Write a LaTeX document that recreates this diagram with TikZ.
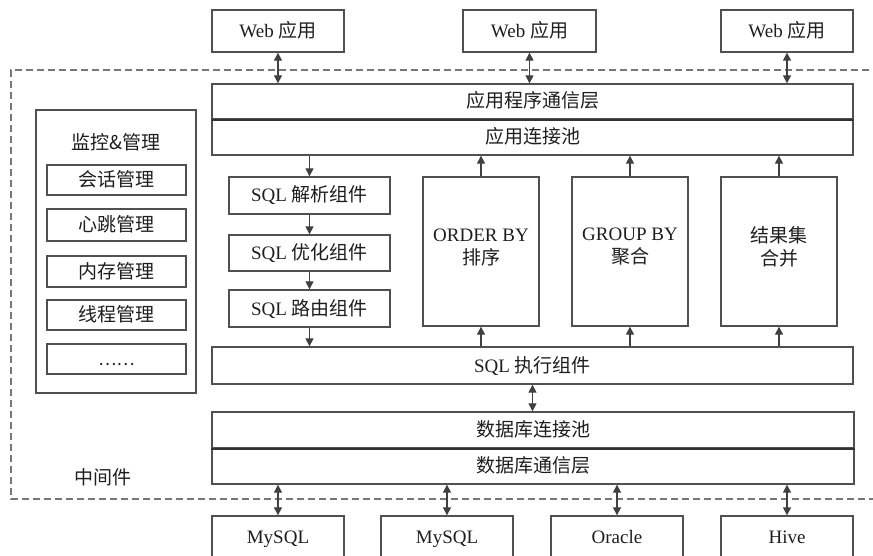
\documentclass[tikz,border=0pt]{standalone}
\usepackage{fontspec}
\setmainfont{Liberation Serif}
\newfontfamily\cjk{Noto Sans CJK SC}
\usetikzlibrary{arrows.meta}
\definecolor{linec}{HTML}{505050}
\definecolor{dashc}{HTML}{777777}
\definecolor{textc}{HTML}{1E1E1E}
\newcommand{\zh}[1]{{\cjk #1}}
\begin{document}
\begin{tikzpicture}[x=1pt,y=-1pt,
  txt/.style={text=textc,font=\fontsize{19}{22}\selectfont,align=center},
  box/.style={draw=linec,line width=1.3pt,rectangle,inner sep=0pt,txt,
    text height=17pt,text depth=4pt},
  bi/.style={{Triangle[length=8pt,width=8pt]}-{Triangle[length=8pt,width=8pt]},draw=black!75,fill=black!75,line width=1.2pt},
  up/.style={-{Triangle[length=8pt,width=8pt]},draw=black!75,fill=black!75,line width=1.2pt},
  border/.style={draw=dashc,line width=1.3pt,dash pattern=on 7pt off 4pt}
]
\useasboundingbox (0,0) rectangle (873,556);
\clip (0,0) rectangle (873,556);
\fill[white] (0,0) rectangle (873,556);
% dashed middleware border
\draw[border] (880,70) -- (11,70) -- (11,499) -- (880,499);
\node[txt] (mid) at (103,477) {\zh{中间件}};
% web apps
\node[box,minimum width=132pt,minimum height=42pt] (web1) at (278,31) {Web \zh{应用}};
\node[box,minimum width=133pt,minimum height=42pt] (web2) at (529.5,31) {Web \zh{应用}};
\node[box,minimum width=132pt,minimum height=42pt] (web3) at (787,31) {Web \zh{应用}};
% application layers
\node[box,minimum width=641pt,minimum height=35pt] (comm) at (532.5,101.5) {\zh{应用程序通信层}};
\node[box,minimum width=641pt,minimum height=36pt] (apool) at (532.5,137) {\zh{应用连接池}};
\draw[black!80,line width=1.8pt] (comm.south west) -- (comm.south east);
% monitor
\node[box,minimum width=160pt,minimum height=283pt] (mon) at (116,251.5) {};
\node[txt] (montitle) at (116,142) {\zh{监控\&管理}};
\node[box,minimum width=139pt,minimum height=30pt] (m1) at (116.5,180) {\zh{会话管理}};
\node[box,minimum width=139pt,minimum height=32pt] (m2) at (116.5,225) {\zh{心跳管理}};
\node[box,minimum width=139pt,minimum height=31pt] (m3) at (116.5,271.5) {\zh{内存管理}};
\node[box,minimum width=139pt,minimum height=30pt] (m4) at (116.5,315) {\zh{线程管理}};
\node[box,minimum width=139pt,minimum height=30pt] (m5) at (116.5,359) {\zh{\fontsize{17}{18}\selectfont ……}};
% SQL column
\node[box,minimum width=161pt,minimum height=37pt] (parse) at (309.5,195.5) {SQL \zh{解析组件}};
\node[box,minimum width=161pt,minimum height=36pt] (opt) at (309.5,253) {SQL \zh{优化组件}};
\node[box,minimum width=161pt,minimum height=37pt] (route) at (309.5,308.5) {SQL \zh{路由组件}};
% processing boxes
\node[box,minimum width=116pt,minimum height=149pt] (order) at (481,251.5) {};
\node[txt,font=\fontsize{19}{23}\selectfont] (ordert) at (481,247) {ORDER BY\\\zh{排序}};
\node[box,minimum width=116pt,minimum height=149pt] (group) at (630,251.5) {};
\node[txt,font=\fontsize{19}{23}\selectfont] (groupt) at (630,247) {GROUP BY\\\zh{聚合}};
\node[box,minimum width=116pt,minimum height=149pt] (merge) at (779,251.5) {};
\node[txt,font=\fontsize{19}{23}\selectfont] (merget) at (779,247) {\zh{结果集}\\\zh{合并}};
% exec
\node[box,minimum width=641pt,minimum height=37pt] (exec) at (532.5,365.5) {SQL \zh{执行组件}};
% db layers
\node[box,minimum width=642pt,minimum height=36pt] (dbpool) at (533,430) {\zh{数据库连接池}};
\node[box,minimum width=642pt,minimum height=36pt] (dbcomm) at (533,466) {\zh{数据库通信层}};
\draw[black!80,line width=1.8pt] (dbpool.south west) -- (dbpool.south east);
% databases
\node[box,minimum width=132pt,minimum height=42pt] (db1) at (278,537) {MySQL};
\node[box,minimum width=132pt,minimum height=42pt] (db2) at (447,537) {MySQL};
\node[box,minimum width=132pt,minimum height=42pt] (db3) at (617,537) {Oracle};
\node[box,minimum width=132pt,minimum height=42pt] (db4) at (787,537) {Hive};
% connectors
\foreach \w in {web1,web2,web3}{
  \draw[bi] (\w.south) -- (\w.south |- comm.north);
}
\draw[up] (apool.south -| parse.north) -- (parse.north);
\draw[up] (parse.south) -- (opt.north);
\draw[up] (opt.south) -- (route.north);
\draw[up] (route.south) -- (route.south |- exec.north);
\foreach \b in {order,group,merge}{
  \draw[up] (exec.north -| \b.south) -- (\b.south);
  \draw[up] (\b.north) -- (\b.north |- apool.south);
}
\draw[bi] (exec.south) -- (exec.south |- dbpool.north);
\foreach \d in {db1,db2,db3,db4}{
  \draw[bi] (dbcomm.south -| \d.north) -- (\d.north);
}
\end{tikzpicture}
\end{document}
